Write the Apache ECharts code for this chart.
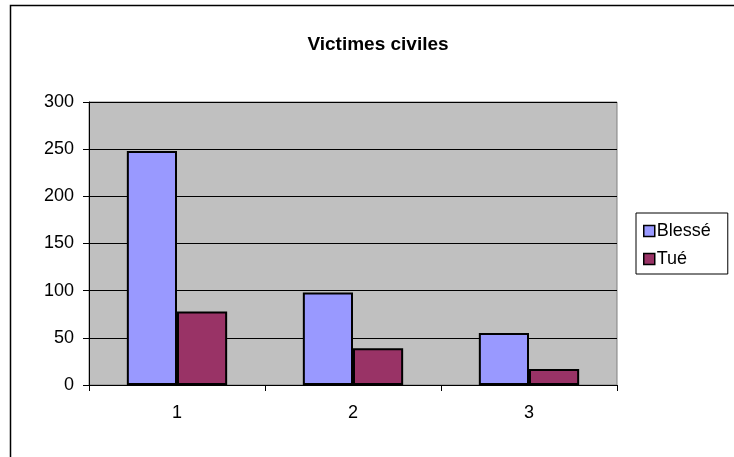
<!DOCTYPE html>
<html>
<head>
<meta charset="utf-8">
<script src="https://cdn.jsdelivr.net/npm/echarts@6/dist/echarts.min.js"></script>
<style>
  html, body { margin: 0; padding: 0; background: #fff; }
  #chart { width: 734px; height: 457px; }
</style>
</head>
<body>
<div id="chart"></div>
<script>
// Civilian casualties per period
const categories = ['1', '2', '3'];
const blesse = [248, 98, 55];
const tue = [78, 39, 17];
const yTicks = [0, 50, 100, 150, 200, 250, 300];

const FONT = '"Liberation Sans", Arial, sans-serif';

const chart = echarts.init(document.getElementById('chart'), null, { renderer: 'canvas' });

chart.setOption({
  animation: false,
  backgroundColor: '#ffffff',
  textStyle: { fontFamily: FONT, color: '#000' },
  title: {
    text: 'Victimes civiles',
    left: 373,
    textAlign: 'center',
    top: 30,
    textStyle: { fontFamily: FONT, fontSize: 19, fontWeight: 'bold', color: '#000' }
  },
  graphic: [
    {
      type: 'rect',
      z: -10,
      shape: { x: 10.5, y: 5.5, width: 900, height: 700 },
      style: { fill: null, stroke: '#000', lineWidth: 1.5 }
    }
  ],
  legend: {
    orient: 'vertical',
    left: 636,
    top: 213,
    padding: [9, 17, 6, 7],
    itemGap: 10,
    itemWidth: 11,
    itemHeight: 11,
    icon: 'rect',
    borderColor: '#000',
    borderWidth: 1,
    backgroundColor: '#fff',
    itemStyle: { borderColor: '#000', borderWidth: 1.5 },
    textStyle: { fontFamily: FONT, fontSize: 18, color: '#000', padding: [0, 0, 0, -3] },
    data: ['Blessé', 'Tué']
  },
  grid: {
    left: 89,
    top: 102,
    right: 117,
    bottom: 72,
    show: true,
    backgroundColor: '#c0c0c0',
    borderColor: '#808080',
    borderWidth: 1
  },
  xAxis: {
    type: 'category',
    data: categories,
    boundaryGap: true,
    axisLine: { lineStyle: { color: '#000', width: 1 } },
    axisTick: { show: true, alignWithLabel: false, inside: false, length: 6, lineStyle: { color: '#000' } },
    axisLabel: { fontFamily: FONT, fontSize: 18, color: '#000', margin: 19 },
    splitLine: { show: false }
  },
  yAxis: {
    type: 'value',
    min: yTicks[0],
    max: yTicks[yTicks.length - 1],
    interval: 50,
    axisLine: { show: true, lineStyle: { color: '#000', width: 1 } },
    axisTick: { show: true, length: 6, lineStyle: { color: '#000' } },
    axisLabel: { fontFamily: FONT, fontSize: 18, color: '#000', margin: 15 },
    splitLine: { show: true, lineStyle: { color: '#000', width: 1 } }
  },
  series: [
    {
      name: 'Blessé',
      type: 'bar',
      data: blesse,
      barGap: '0%',
      barCategoryGap: '43%',
      itemStyle: { color: '#9999ff', borderColor: '#000', borderWidth: 2 }
    },
    {
      name: 'Tué',
      type: 'bar',
      data: tue,
      itemStyle: { color: '#993366', borderColor: '#000', borderWidth: 2 }
    }
  ]
});
</script>
</body>
</html>
